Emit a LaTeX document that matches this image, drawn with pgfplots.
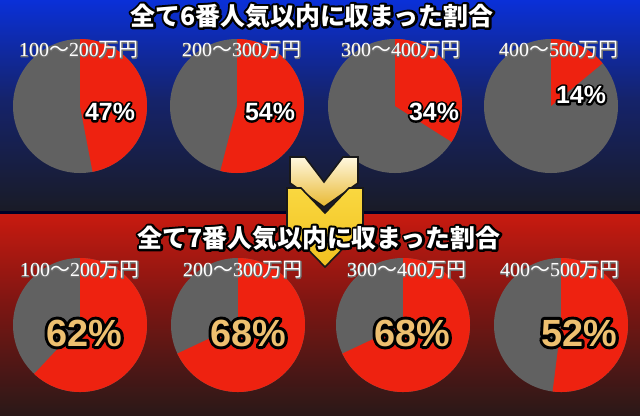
\documentclass[border=0pt]{standalone}
\usepackage{pgfplots}
\pgfplotsset{compat=1.18}
\usepackage{fontspec}
\setmainfont{Liberation Serif}
\newfontfamily\cjk{Noto Sans CJK JP}
\newfontfamily\lsans{Liberation Sans}
\definecolor{pieRed}{HTML}{EE2210}
\definecolor{pieGrey}{HTML}{616161}
\definecolor{bgBlueA}{HTML}{0A30D8}
\definecolor{bgBlueB}{HTML}{15236A}
\definecolor{bgBlueC}{HTML}{191B26}
\definecolor{bgRedA}{HTML}{C81A10}
\definecolor{bgRedB}{HTML}{801612}
\definecolor{bgRedC}{HTML}{2A1818}
\definecolor{goldTxt}{HTML}{EEC070}
\definecolor{chevA}{HTML}{FFF8E0}
\definecolor{chevB}{HTML}{E8B830}
\definecolor{chevC}{HTML}{FAD840}
\definecolor{chevD}{HTML}{F0C020}
% pie: cx, cy, percent (red share, clockwise from 12 o'clock)
\newcommand{\pie}[3]{%
  \addplot[fill=pieGrey, draw=none, domain=0:360, samples=145] ({#1+67*sin(x)},{#2-67*cos(x)});
  \addplot[fill=pieRed, draw=none, domain=0:3.6*#3, samples=73] ({#1+67*sin(x)},{#2-67*cos(x)}) -- (#1,#2) -- cycle;
}
% outlined text: stroke width (bp), outline colour, text
\newcommand{\outl}[3]{\leavevmode\rlap{\color{#2}\special{pdf:literal direct 2 Tr #1 w 1 j}#3\special{pdf:literal direct 0 Tr 1 w 0 j}}#3}
\newcommand{\titlefont}{\cjk\bfseries\fontsize{25}{25}\selectfont}
\newcommand{\lab}[2]{{\fontsize{20}{20}\selectfont #1{\cjk ～}#2{\cjk 万円}}}
\begin{document}
\begin{tikzpicture}
\begin{scope}[x=1bp, y=-1bp, yshift=415bp]
  \shade[top color=bgBlueA, bottom color=bgBlueB] (0,0) rectangle (640,100);
  \shade[top color=bgBlueB, bottom color=bgBlueC] (0,100) rectangle (640,211.5);
  \fill[black!85!blue] (0,211) rectangle (640,214.5);
  \shade[top color=bgRedA, bottom color=bgRedB] (0,214) rectangle (640,300);
  \shade[top color=bgRedB, bottom color=bgRedC] (0,299.5) rectangle (640,415);
\end{scope}
\begin{axis}[
  at={(0,0)}, anchor=south west,
  scale only axis, width=640bp, height=415bp,
  xmin=0, xmax=640, ymin=0, ymax=415, y dir=reverse,
  hide axis, clip=false,
]
% top row: within 6th favourite
\pie{80}{106}{47}
\pie{237}{106}{54}
\pie{395}{106}{34}
\pie{551}{106}{14}
% bottom row: within 7th favourite
\pie{80}{325}{62}
\pie{238}{325}{68}
\pie{403}{325}{68}
\pie{561}{325}{52}
\end{axis}
\begin{scope}[x=1bp, y=-1bp, yshift=415bp]
  % chevrons
  \path[draw=black!90, line width=1.6bp, top color=chevA, bottom color=chevB]
    (290,157) -- (305,157) -- (324,182) -- (343,157) -- (358,157) -- (358,183) -- (324,207) -- (290,183) -- cycle;
  \path[draw=black!90, line width=1.6bp, top color=chevC, bottom color=chevD]
    (287,188) -- (301,188) -- (325,213) -- (349,188) -- (363,188) -- (363,228) -- (325,267) -- (287,228) -- cycle;
  % titles
  \node[text=white] at (312,16) {\titlefont\outl{4.5}{black}{全て6番人気以内に収まった割合}};
  \node[text=white] at (319,238) {\titlefont\outl{4.5}{black}{全て7番人気以内に収まった割合}};
  % range labels
  \foreach \x/\a/\b in {79/100/200, 242/200/300, 401/300/400, 559/400/500}
    \node[text=white] at (\x,50) {\outl{1.2}{black!55}{\lab{\a}{\b}}};
  \foreach \x/\a/\b in {80/100/200, 243/200/300, 407/300/400, 560/400/500}
    \node[text=white] at (\x,270) {\outl{1.2}{black!55}{\lab{\a}{\b}}};
  % percentages top
  \node[text=white] at (110,112) {\lsans\bfseries\fontsize{25}{25}\selectfont\outl{4}{black}{47\%}};
  \node[text=white] at (270,112) {\lsans\bfseries\fontsize{25}{25}\selectfont\outl{4}{black}{54\%}};
  \node[text=white] at (434,112) {\lsans\bfseries\fontsize{25}{25}\selectfont\outl{4}{black}{34\%}};
  \node[text=white] at (581,95) {\lsans\bfseries\fontsize{25}{25}\selectfont\outl{4}{black}{14\%}};
  % percentages bottom
  \node[text=goldTxt] at (84,333) {\lsans\bfseries\fontsize{38}{38}\selectfont\outl{6}{black}{62\%}};
  \node[text=goldTxt] at (248,333) {\lsans\bfseries\fontsize{38}{38}\selectfont\outl{6}{black}{68\%}};
  \node[text=goldTxt] at (412,333) {\lsans\bfseries\fontsize{38}{38}\selectfont\outl{6}{black}{68\%}};
  \node[text=goldTxt] at (579,333) {\lsans\bfseries\fontsize{38}{38}\selectfont\outl{6}{black}{52\%}};
\end{scope}
\end{tikzpicture}
\end{document}
